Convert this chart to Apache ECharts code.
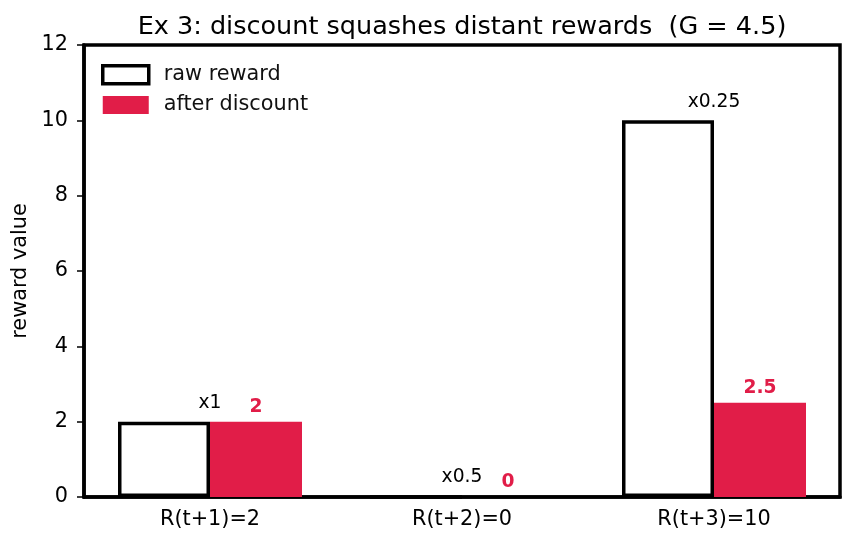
<!DOCTYPE html>
<html>
<head>
<meta charset="utf-8">
<script src="https://cdn.jsdelivr.net/npm/echarts@6/dist/echarts.min.js"></script>
<style>
  html, body { margin: 0; padding: 0; background: #fff; }
  #chart { width: 856px; height: 546px; }
</style>
</head>
<body>
<div id="chart"></div>
<script>
const categories = ['R(t+1)=2', 'R(t+2)=0', 'R(t+3)=10'];
const rawReward = [2, 0, 10];
const discounted = [2, 0, 2.5];
const factorLabels = ['x1', 'x0.5', 'x0.25'];
const yTicks = [0, 2, 4, 6, 8, 10, 12];

const RED = '#e11d48';
const FONT = 'DejaVu Sans';

const chart = echarts.init(document.getElementById('chart'));
chart.setOption({
  animation: false,
  textStyle: { fontFamily: FONT },
  title: {
    text: 'Ex 3: discount squashes distant rewards  (G = 4.5)',
    left: 457, top: 9, textAlign: 'center',
    textStyle: { fontFamily: FONT, fontSize: 25.5, fontWeight: 'normal', color: '#000' }
  },
  legend: {
    left: 101, top: 64, orient: 'vertical', padding: 0,
    itemWidth: 46, itemHeight: 18, itemGap: 9,
    icon: 'rect',
    textStyle: { fontFamily: FONT, fontSize: 20.8, color: '#111', padding: [0, 0, 0, 10] },
    data: [
      { name: 'raw reward', itemStyle: { color: '#fff', borderColor: '#000', borderWidth: 3.5 } },
      { name: 'after discount', itemStyle: { color: RED, borderWidth: 0 } }
    ]
  },
  grid: {
    left: 84, right: 16, top: 45, bottom: 49,
    show: true, borderColor: '#000', borderWidth: 3.5, backgroundColor: 'transparent'
  },
  xAxis: {
    type: 'category',
    data: categories,
    axisLine: { lineStyle: { color: '#000', width: 3.5 } },
    axisTick: { alignWithLabel: true, length: 7, lineStyle: { color: '#000', width: 1.5 } },
    axisLabel: { fontFamily: FONT, fontSize: 20.8, color: '#000', margin: 12 }
  },
  yAxis: {
    type: 'value',
    min: yTicks[0], max: yTicks[yTicks.length - 1], interval: 2,
    name: 'reward value',
    nameLocation: 'middle', nameGap: 47,
    nameTextStyle: { fontFamily: FONT, fontSize: 20.8, color: '#000' },
    axisLine: { show: true, lineStyle: { color: '#000', width: 3.5 } },
    axisTick: { show: true, length: 7, lineStyle: { color: '#000', width: 1.5 } },
    axisLabel: { fontFamily: FONT, fontSize: 20.8, color: '#000', margin: 16 },
    splitLine: { show: false }
  },
  series: [
    {
      name: 'raw reward', type: 'bar',
      data: rawReward,
      barWidth: 92, barGap: '0%',
      itemStyle: { color: '#fff', borderColor: '#000', borderWidth: 3.5 },
      label: {
        show: true, position: 'top', offset: [46, -4],
        formatter: p => factorLabels[p.dataIndex],
        fontFamily: FONT, fontSize: 18.7, color: '#000'
      },
      z: 2
    },
    {
      name: 'after discount', type: 'bar',
      data: discounted,
      barWidth: 92,
      itemStyle: { color: RED },
      label: {
        show: true, position: 'top', offset: [0, 0],
        fontFamily: FONT, fontSize: 18.7, fontWeight: 'bold', color: RED
      },
      z: 3
    }
  ]
});
</script>
</body>
</html>
